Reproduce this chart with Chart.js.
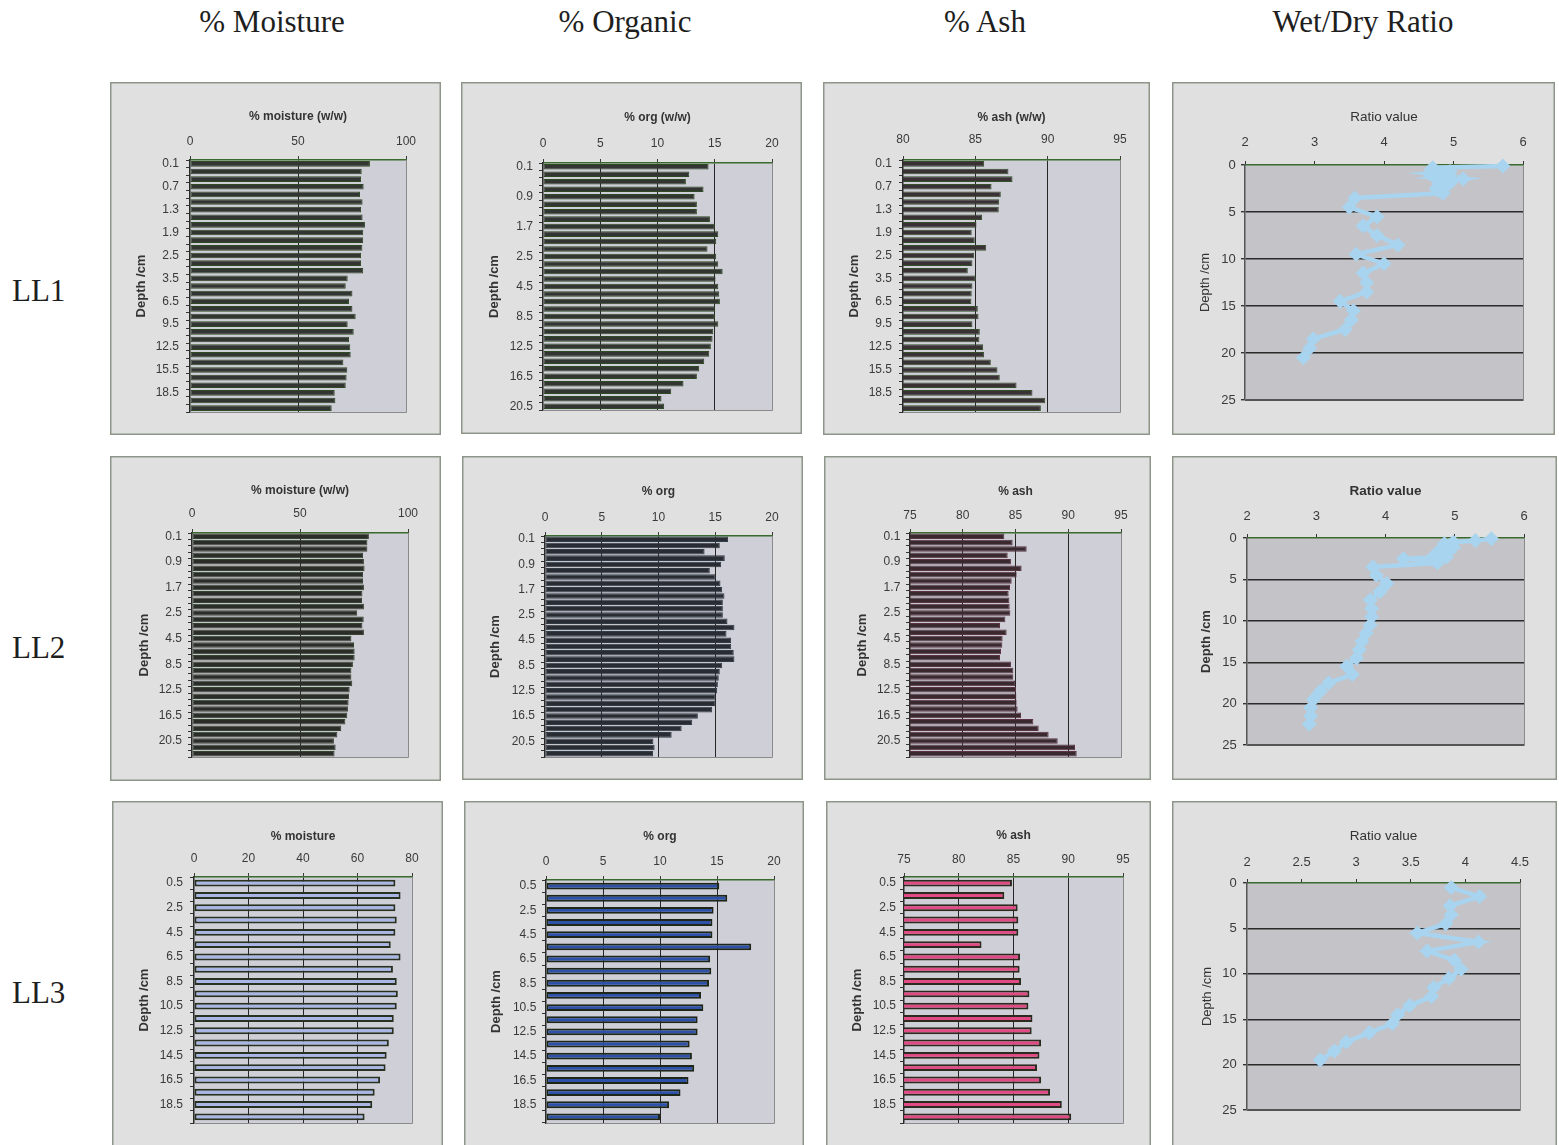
<!DOCTYPE html>
<html>
<head>
<meta charset="utf-8">
<title>Core profiles LL1–LL3</title>
<script src="https://cdn.jsdelivr.net/npm/chart.js@4.4.1/dist/chart.umd.min.js"></script>
<style>
  html, body { margin: 0; padding: 0; background: #fff; }
  body { position: relative; width: 1559px; height: 1145px; overflow: hidden;
         font-family: 'Liberation Serif', 'Times New Roman', serif; color: #1e1e1e; }
  .col-head { position: absolute; top: 0; height: 44px; line-height: 44px; font-size: 31px;
              transform: translateX(-50%); white-space: nowrap; }
  .row-head { position: absolute; left: 12px; font-size: 31px; line-height: 36px; transform: translateY(-50%); }
  canvas.panel { position: absolute; }
</style>
</head>
<body>
<div class="col-head" style="left:272px">% Moisture</div>
<div class="col-head" style="left:625px">% Organic</div>
<div class="col-head" style="left:985px">% Ash</div>
<div class="col-head" style="left:1363px">Wet/Dry Ratio</div>
<div class="row-head" style="top:291px">LL1</div>
<div class="row-head" style="top:648px">LL2</div>
<div class="row-head" style="top:993px">LL3</div>
<script>
// ---- sample depths (cm) ----
const depthsLL1 = [0.1, 0.3, 0.5, 0.7, 0.9, 1.1, 1.3, 1.5, 1.7, 1.9, 2.1, 2.3, 2.5, 2.7, 3,
                   3.5, 4.5, 5.5, 6.5, 7.5, 8.5, 9.5, 10.5, 11.5, 12.5, 13.5, 14.5, 15.5,
                   16.5, 17.5, 18.5, 19.5, 20.5];
const depthsLL2 = [0.1, 0.3, 0.5, 0.7, 0.9, 1.1, 1.3, 1.5, 1.7, 1.9, 2.1, 2.3, 2.5, 2.7, 3,
                   3.5, 4.5, 5.5, 6.5, 7.5, 8.5, 9.5, 10.5, 11.5, 12.5, 13.5, 14.5, 15.5,
                   16.5, 17.5, 18.5, 19.5, 20.5, 21.5, 22.5];
const depthsLL3 = [0.5, 1.5, 2.5, 3.5, 4.5, 5.5, 6.5, 7.5, 8.5, 9.5, 10.5, 11.5, 12.5,
                   13.5, 14.5, 15.5, 16.5, 17.5, 18.5, 19.5];

// ---- LL1 ----
const moistureLL1 = [83.3, 79.5, 79.2, 80.4, 78.7, 79.9, 79.2, 79.9, 81.0, 80.2, 80.2, 79.8,
                     79.2, 79.2, 80.2, 73.0, 72.1, 75.2, 73.6, 75.2, 76.7, 73.0, 75.8, 73.6,
                     74.2, 74.4, 71.0, 72.8, 72.5, 72.1, 67.0, 67.3, 65.6];
const organicLL1 = [14.46, 12.77, 12.48, 14.02, 13.24, 13.44, 13.44, 14.58, 15.01, 15.31, 15.13,
                    14.37, 15.13, 15.31, 15.69, 15.07, 15.31, 15.39, 15.45, 15.04, 15.01, 15.31,
                    14.87, 14.81, 14.66, 14.52, 14.08, 13.64, 13.44, 12.27, 11.2, 10.35, 10.58];
const ashLL1 = [85.61, 87.29, 87.57, 86.12, 86.76, 86.65, 86.62, 85.47, 85.08, 84.75, 84.96,
                85.75, 84.92, 84.8, 84.48, 85.03, 84.8, 84.75, 84.73, 85.17, 85.22, 84.8,
                85.31, 85.28, 85.54, 85.61, 86.07, 86.53, 86.69, 87.85, 88.95, 89.83, 89.53];
const ratioLL1 = [5.71, 4.70, 4.68, 4.95, 4.65, 4.88, 4.72, 5.14, 4.98, 4.85, 4.92, 4.80, 4.75,
                  4.78, 4.85, 3.58, 3.50, 3.90, 3.70, 3.90, 4.20, 3.60, 4.00, 3.70, 3.75, 3.75,
                  3.37, 3.56, 3.53, 3.44, 2.98, 2.93, 2.84];

// ---- LL2 ----
const moistureLL2 = [81.9, 81.2, 81.2, 79.2, 79.6, 79.9, 79.2, 79.2, 79.6, 78.9, 78.7, 79.6,
                     76.5, 79.5, 78.9, 79.6, 73.8, 75.0, 75.3, 75.3, 74.5, 73.8, 73.8, 74.2,
                     73.0, 72.7, 72.5, 72.2, 71.9, 71.0, 69.1, 67.3, 65.7, 66.5, 66.0];
const organicLL2 = [16.13, 15.4, 14.06, 15.84, 15.52, 14.52, 15.02, 15.46, 15.61, 15.81, 15.67,
                    15.67, 15.67, 16.08, 16.69, 15.99, 16.4, 16.4, 16.63, 16.69, 15.61, 15.4,
                    15.31, 15.23, 15.17, 15.02, 15.02, 14.73, 13.47, 12.97, 12.04, 11.16,
                    9.55, 9.66, 9.52];
const ashLL2 = [83.94, 84.73, 86.06, 84.26, 84.57, 85.58, 85.11, 84.64, 84.48, 84.35, 84.42,
                84.45, 84.51, 84.04, 83.53, 84.16, 83.78, 83.75, 83.63, 83.53, 84.57, 84.79,
                84.79, 84.95, 85.05, 85.08, 85.11, 85.2, 85.52, 86.69, 87.2, 88.14, 89.0,
                90.64, 90.8];
const ratioLL2 = [5.53, 5.30, 4.98, 4.85, 4.92, 4.98, 4.80, 4.82, 4.90, 4.75, 4.70, 4.88, 4.26,
                  4.70, 4.75, 3.82, 3.87, 4.02, 3.92, 3.78, 3.80, 3.80, 3.78, 3.72, 3.66, 3.62,
                  3.58, 3.44, 3.52, 3.18, 3.06, 2.96, 2.92, 2.92, 2.90];

// ---- LL3 ----
const moistureLL3 = [73.9, 75.8, 73.9, 74.4, 73.9, 72.2, 75.8, 73.0, 74.4, 74.8, 74.4, 73.3,
                     73.3, 71.5, 70.7, 70.3, 68.3, 66.3, 65.4, 62.6];
const organicLL3 = [15.2, 15.9, 14.7, 14.6, 14.6, 18.0, 14.4, 14.5, 14.3, 13.6, 13.8, 13.3,
                    13.3, 12.6, 12.8, 13.0, 12.5, 11.8, 10.8, 10.0];
const ashLL3 = [84.86, 84.16, 85.38, 85.44, 85.44, 82.08, 85.6, 85.56, 85.69, 86.45, 86.36,
                86.73, 86.66, 87.52, 87.37, 87.15, 87.52, 88.34, 89.41, 90.27];
const ratioLL3 = [3.87, 4.13, 3.86, 3.87, 3.82, 3.56, 4.12, 3.65, 3.90, 3.96, 3.85, 3.71, 3.69,
                  3.49, 3.38, 3.33, 3.12, 2.91, 2.80, 2.67];

// ---- drawing helpers ----
const SANS = "'Liberation Sans', Arial, sans-serif";
Chart.defaults.font.family = SANS;
const TICK_LEN = 4;
const lineH = size => size * 1.2;

// panel background, frame and the plot-area fill / right+bottom edges
const frame = {
  id: 'frame',
  beforeDraw(chart, args, o) {
    const { ctx, width, height, chartArea: a } = chart;
    ctx.save();
    ctx.fillStyle = o.panel;
    ctx.fillRect(0, 0, width, height);
    ctx.strokeStyle = o.border;
    ctx.lineWidth = 1.5;
    ctx.strokeRect(0.75, 0.75, width - 1.5, height - 1.5);
    ctx.fillStyle = o.plot;
    ctx.fillRect(a.left, a.top, a.right - a.left, a.bottom - a.top);
    ctx.restore();
  },
  afterDraw(chart, args, o) {
    const { ctx, chartArea: a } = chart;
    ctx.save();
    ctx.lineWidth = 1;
    ctx.strokeStyle = o.bottomEdge;
    ctx.beginPath();
    ctx.moveTo(a.left, a.bottom + 0.5);
    ctx.lineTo(a.right + 0.5, a.bottom + 0.5);
    ctx.stroke();
    ctx.strokeStyle = o.rightEdge;
    ctx.beginPath();
    ctx.moveTo(a.right + 0.5, a.top);
    ctx.lineTo(a.right + 0.5, a.bottom + 0.5);
    ctx.stroke();
    ctx.restore();
  }
};

function place(box) {
  const c = document.createElement('canvas');
  c.className = 'panel';
  c.width = box[2];
  c.height = box[3];
  c.style.left = box[0] + 'px';
  c.style.top = box[1] + 'px';
  document.body.appendChild(c);
  return c;
}

function barPanel(p) {
  const [bx, by, bw, bh] = p.box;
  const [x1, y1, x2, y2] = p.plot;
  const tickSize = 12, xTitleSize = 12, yTitleSize = 13;
  const lo = p.range[0], hi = p.range[1];
  new Chart(place(p.box), {
    type: 'bar',
    data: {
      labels: p.depths.map(String),
      datasets: [{
        data: p.values,
        backgroundColor: p.fill,
        borderColor: p.edge,
        borderWidth: p.edgeWidth,
        borderSkipped: false,
        barPercentage: p.barPct,
        categoryPercentage: 1
      }]
    },
    options: {
      indexAxis: 'y',
      responsive: false,
      animation: false,
      devicePixelRatio: 1,
      layout: { padding: { left: 0, top: 0, right: bx + bw - x2, bottom: by + bh - y2 } },
      plugins: {
        legend: { display: false },
        tooltip: { enabled: false },
        frame: { panel: '#e0e0e0', border: '#8d9689', plot: '#cfcfd7',
                 bottomEdge: '#8a8a8a', rightEdge: '#8a8a8a' }
      },
      scales: {
        x: {
          type: 'linear', position: 'top', min: lo, max: hi, z: 1,
          afterFit: s => { s.height = y1 - by; },
          ticks: {
            stepSize: p.step,
            padding: y1 - p.xTickY - lineH(tickSize) / 2 - TICK_LEN,
            font: { size: tickSize }, color: '#3a3a3a',
            callback: v => String(v)
          },
          grid: {
            color: c => (c.tick.value === lo || c.tick.value === hi) ? 'rgba(0,0,0,0)' : '#262626',
            lineWidth: 1, tickLength: TICK_LEN, tickColor: '#3a3a3a'
          },
          border: { color: '#3b6a2e', width: 1.5 },
          title: {
            display: true, text: p.xTitle, color: '#333',
            font: { size: xTitleSize, weight: 'bold' },
            padding: { top: p.xTitleY - by - lineH(xTitleSize) / 2, bottom: 0 }
          }
        },
        y: {
          afterFit: s => { s.width = x1 - bx; },
          ticks: {
            autoSkip: false,
            padding: x1 - p.yTickR - TICK_LEN,
            font: { size: tickSize }, color: '#3a3a3a',
            callback: function (v, i) { return i % p.every === 0 ? this.getLabelForValue(v) : ''; }
          },
          grid: { drawOnChartArea: false, offset: true, tickLength: TICK_LEN, color: '#333' },
          border: { color: '#2a2a2a', width: 1.5 },
          title: {
            display: true, text: 'Depth /cm', color: '#333',
            font: { size: yTitleSize, weight: 'bold' },
            padding: { top: p.yTitleX - bx - lineH(yTitleSize) / 2, bottom: 0 }
          }
        }
      }
    },
    plugins: [frame]
  });
}

function ratioPanel(p) {
  const [bx, by, bw, bh] = p.box;
  const [x1, y1, x2, y2] = p.plot;
  const tickSize = 13, xTitleSize = 13.5, yTitleSize = 13;
  const weight = p.bold ? 'bold' : 'normal';
  new Chart(place(p.box), {
    type: 'scatter',
    data: {
      datasets: [{
        data: p.depths.map((d, i) => ({ x: p.values[i], y: d })),
        showLine: true,
        tension: 0,
        borderColor: '#a9d4ef',
        backgroundColor: '#a9d4ef',
        borderWidth: 4.5,
        pointStyle: 'rectRot',
        pointRadius: 7.5,
        pointBorderWidth: 0,
        clip: false
      }]
    },
    options: {
      responsive: false,
      animation: false,
      devicePixelRatio: 1,
      layout: { padding: { left: 0, top: 0, right: bx + bw - x2, bottom: by + bh - y2 } },
      plugins: {
        legend: { display: false },
        tooltip: { enabled: false },
        frame: { panel: '#e0e0e0', border: '#8d9689', plot: '#c3c3c8',
                 bottomEdge: '#555', rightEdge: '#8a8a8a' }
      },
      scales: {
        x: {
          type: 'linear', position: 'top', min: p.range[0], max: p.range[1],
          afterFit: s => { s.height = y1 - by; },
          ticks: {
            stepSize: p.step,
            padding: y1 - p.xTickY - lineH(tickSize) / 2 - TICK_LEN,
            font: { size: tickSize }, color: '#3a3a3a',
            callback: v => String(v)
          },
          grid: { drawOnChartArea: false, tickLength: TICK_LEN, color: '#333' },
          border: { color: '#3b6a2e', width: 1.5 },
          title: {
            display: true, text: 'Ratio value', color: '#333',
            font: { size: xTitleSize, weight },
            padding: { top: p.xTitleY - by - lineH(xTitleSize) / 2, bottom: 0 }
          }
        },
        y: {
          type: 'linear', reverse: true, min: 0, max: 25,
          afterFit: s => { s.width = x1 - bx; },
          ticks: {
            stepSize: 5,
            padding: x1 - p.yTickR - TICK_LEN,
            font: { size: tickSize }, color: '#3a3a3a',
            callback: v => String(v)
          },
          grid: {
            color: c => c.tick.value === 0 ? 'rgba(0,0,0,0)' : (c.tick.value === 25 ? '#555' : '#2a2a2a'),
            lineWidth: 1.4, tickLength: TICK_LEN, tickColor: '#333'
          },
          border: { color: '#555', width: 1.5 },
          title: {
            display: true, text: 'Depth /cm', color: '#333',
            font: { size: yTitleSize, weight },
            padding: { top: p.yTitleX - bx - lineH(yTitleSize) / 2, bottom: 0 }
          }
        }
      }
    },
    plugins: [frame]
  });
}

// ---- row LL1 ----
barPanel({ box: [110, 82, 331, 353], plot: [190, 160, 406, 412], xTitleY: 117, xTickY: 141.5,
           yTitleX: 141, yTickR: 179, depths: depthsLL1, values: moistureLL1, every: 3,
           range: [0, 100], step: 50, xTitle: '% moisture (w/w)',
           fill: '#333532', edge: '#2e4a24', edgeWidth: 1, barPct: 0.74 });
barPanel({ box: [461, 82, 341, 352], plot: [543, 163, 772, 410], xTitleY: 117.7, xTickY: 143.3,
           yTitleX: 494, yTickR: 533, depths: depthsLL1, values: organicLL1, every: 4,
           range: [0, 20], step: 5, xTitle: '% org (w/w)',
           fill: '#323531', edge: '#2d4a23', edgeWidth: 1, barPct: 0.74 });
barPanel({ box: [823, 82, 327, 353], plot: [903, 160, 1120, 412], xTitleY: 117.7, xTickY: 140,
           yTitleX: 854, yTickR: 892, depths: depthsLL1, values: ashLL1, every: 3,
           range: [80, 95], step: 5, xTitle: '% ash (w/w)',
           fill: '#3a3135', edge: '#34502a', edgeWidth: 1, barPct: 0.74 });
ratioPanel({ box: [1172, 82, 383, 353], plot: [1245, 165, 1523, 400], xTitleY: 117.7, xTickY: 142.7,
             yTitleX: 1205, yTickR: 1235.7, depths: depthsLL1, values: ratioLL1,
             range: [2, 6], step: 1, bold: false });

// ---- row LL2 ----
barPanel({ box: [110, 456, 331, 325], plot: [192, 533, 408, 757], xTitleY: 490.7, xTickY: 513.3,
           yTitleX: 144.7, yTickR: 182, depths: depthsLL2, values: moistureLL2, every: 4,
           range: [0, 100], step: 50, xTitle: '% moisture (w/w)',
           fill: '#2b2d29', edge: '#36442f', edgeWidth: 1, barPct: 0.88 });
barPanel({ box: [462, 456, 341, 324], plot: [545, 536, 772, 757], xTitleY: 491.7, xTickY: 517.3,
           yTitleX: 495.7, yTickR: 535, depths: depthsLL2, values: organicLL2, every: 4,
           range: [0, 20], step: 5, xTitle: '% org',
           fill: '#292c33', edge: '#323c46', edgeWidth: 1, barPct: 0.88 });
barPanel({ box: [824, 456, 327, 324], plot: [910, 533, 1121, 757], xTitleY: 491.7, xTickY: 515.7,
           yTitleX: 862.7, yTickR: 900.3, depths: depthsLL2, values: ashLL2, every: 4,
           range: [75, 95], step: 5, xTitle: '% ash',
           fill: '#3a2a2f', edge: '#5a3243', edgeWidth: 1, barPct: 0.88 });
ratioPanel({ box: [1172, 456, 385, 324], plot: [1247, 538, 1524, 745], xTitleY: 491.7, xTickY: 516.7,
             yTitleX: 1206.7, yTickR: 1236.7, depths: depthsLL2, values: ratioLL2,
             range: [2, 6], step: 1, bold: true });

// ---- row LL3 ----
barPanel({ box: [112, 801, 331, 350], plot: [194, 877, 412, 1123], xTitleY: 836.3, xTickY: 859,
           yTitleX: 144, yTickR: 183, depths: depthsLL3, values: moistureLL3, every: 2,
           range: [0, 80], step: 20, xTitle: '% moisture',
           fill: '#aab6e6', edge: '#283020', edgeWidth: 2, barPct: 0.56 });
barPanel({ box: [464, 801, 340, 350], plot: [546, 880, 774, 1123], xTitleY: 836.3, xTickY: 861.3,
           yTitleX: 496.3, yTickR: 536.3, depths: depthsLL3, values: organicLL3, every: 2,
           range: [0, 20], step: 5, xTitle: '% org',
           fill: '#2d50a8', edge: '#1e2618', edgeWidth: 2, barPct: 0.56 });
barPanel({ box: [826, 801, 325, 350], plot: [904, 877, 1123, 1123], xTitleY: 835.3, xTickY: 859.7,
           yTitleX: 857.7, yTickR: 896, depths: depthsLL3, values: ashLL3, every: 2,
           range: [75, 95], step: 5, xTitle: '% ash',
           fill: '#e14a85', edge: '#2a2a1e', edgeWidth: 2, barPct: 0.56 });
ratioPanel({ box: [1172, 801, 385, 350], plot: [1247, 883, 1520, 1110], xTitleY: 836, xTickY: 862,
             yTitleX: 1207.7, yTickR: 1236.7, depths: depthsLL3, values: ratioLL3,
             range: [2, 4.5], step: 0.5, bold: false });
</script>
</body>
</html>
